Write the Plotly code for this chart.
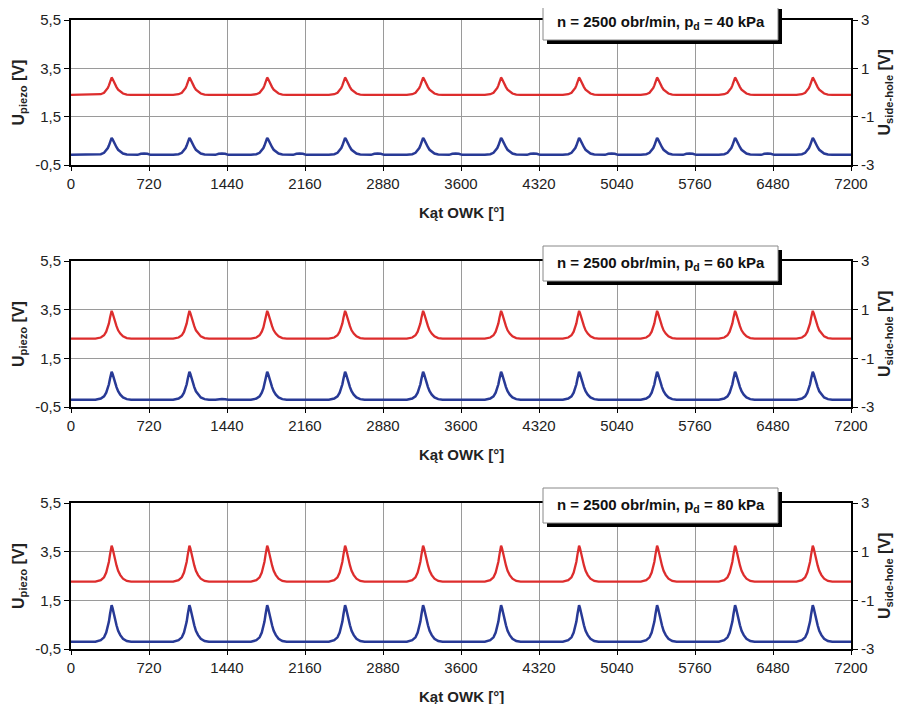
import plotly.graph_objects as go

# ---------------- data ----------------
x_ticks = [0, 720, 1440, 2160, 2880, 3600, 4320, 5040, 5760, 6480, 7200]
y_left_ticks = [-0.5, 1.5, 3.5, 5.5]
y_left_text = ["-0,5", "1,5", "3,5", "5,5"]
y_right_ticks = [-3, -1, 1, 3]
y_right_text = ["-3", "-1", "1", "3"]

pressures = ["40", "60", "80"]           # p_d [kPa] per panel
peak_x = [375, 1093, 1811, 2530, 3250, 3970, 4690, 5410, 6130, 6847]  # peak angles [deg]

# blue trace (U_piezo, left axis)
blue_base = [-0.08, -0.2, -0.2]
blue_peak = [0.62, 0.95, 1.3]
blue_bump = [0.06, 0.03, 0.02]           # small hump between peaks
# red trace (U_side-hole, right axis)
red_base = [-0.10, -0.19, -0.23]
red_peak = [0.62, 0.95, 1.25]

# peak shape: offset [deg] and fraction of peak height
shape_dx = [-150, -100, -70, -50, -35, -25, -15, -7, 0, 8, 18, 30, 45, 60, 80, 105, 140, 180]
shape_f = [0, 0.04, 0.12, 0.25, 0.4, 0.55, 0.75, 0.92, 1.0, 0.93, 0.78, 0.6, 0.45, 0.3, 0.18, 0.08, 0.02, 0]
bump_dx = [240, 270, 300, 330, 360]
bump_f = [0, 0.7, 1.0, 0.7, 0]


def build(base, peak, bump):
    xs, ys = [0], [base]
    for c in peak_x:
        for dx, f in zip(shape_dx, shape_f):
            xs.append(c + dx)
            ys.append(base + (peak - base) * f)
        if bump > 0 and c + bump_dx[-1] < 7200:
            for dx, f in zip(bump_dx, bump_f):
                xs.append(c + dx)
                ys.append(base + bump * f)
    xs.append(7200)
    ys.append(base)
    return xs, ys


# ---------------- layout geometry ----------------
# page has an 8 px body margin; geometry below is in page pixels
OFF = 8
W, H = 895, 696                      # figure size (page ends at 905 x 706)
PL, PR = 71, 851                     # plot-area left/right in page px
PT, PB = 20, 649                     # overall plot top/bottom in page px
ML, MR = PL - OFF, W - (PR - OFF)
MT, MB = PT - OFF, H - (PB - OFF)
PW, PH = W - ML - MR, H - MT - MB
panel_top_px = [20, 261, 503]
panel_bot_px = [165, 407, 649]


def py(px):
    return (PB - px) / PH


def pxx(px):
    return (px - PL) / PW


FONT = "Liberation Sans, Arial, sans-serif"
RED = "rgb(221,45,45)"
BLUE = "rgb(40,58,150)"
TXT = "#222"

fig = go.Figure()
layout = dict(
    width=W, height=H,
    margin=dict(l=ML, r=MR, t=MT, b=MB, autoexpand=False),
    paper_bgcolor="white", plot_bgcolor="white",
    showlegend=False,
    font=dict(family=FONT, size=15, color=TXT),
)
shapes = []
annotations = []

for i in range(3):
    n = i + 1
    xa = "x" if n == 1 else f"x{n}"
    yl = f"y{2*n-1}" if n > 1 else "y"
    yr = f"y{2*n}"
    dom = [py(panel_bot_px[i]), py(panel_top_px[i])]

    bx, by = build(blue_base[i], blue_peak[i], blue_bump[i])
    rx, ry = build(red_base[i], red_peak[i], 0)
    fig.add_trace(go.Scatter(x=bx, y=by, mode="lines", line=dict(color=BLUE, width=2.5),
                             xaxis=xa, yaxis=yl))
    fig.add_trace(go.Scatter(x=rx, y=ry, mode="lines", line=dict(color=RED, width=2.3),
                             xaxis=xa, yaxis=yr))

    xkey = "xaxis" if n == 1 else f"xaxis{n}"
    ylkey = "yaxis" if n == 1 else f"yaxis{2*n-1}"
    yrkey = f"yaxis{2*n}"
    layout[xkey] = dict(
        domain=[0, 1], anchor=yl, range=[0, 7200], automargin=False,
        tickvals=x_ticks, ticktext=[str(v) for v in x_ticks],
        showgrid=True, gridcolor="#9a9a9a", gridwidth=1, zeroline=False,
        showline=True, linecolor="black", linewidth=2, mirror=True,
        ticks="outside", ticklen=4, tickcolor="black",
        tickfont=dict(size=15, color=TXT),
    )
    layout[ylkey] = dict(
        domain=dom, anchor=xa, range=[-0.5, 5.5], automargin=False,
        tickvals=y_left_ticks, ticktext=y_left_text,
        showgrid=True, gridcolor="#9a9a9a", gridwidth=1, zeroline=False,
        showline=True, linecolor="black", linewidth=2,
        ticks="outside", ticklen=5, tickcolor="black",
        tickfont=dict(size=15, color=TXT),
    )
    layout[yrkey] = dict(
        overlaying=yl, side="right", anchor=xa, range=[-3, 3], automargin=False,
        tickvals=y_right_ticks, ticktext=y_right_text,
        showgrid=False, zeroline=False,
        showline=True, linecolor="black", linewidth=2,
        ticks="outside", ticklen=5, tickcolor="black",
        tickfont=dict(size=15, color=TXT),
    )

    mid = (panel_top_px[i] + panel_bot_px[i]) / 2
    # axis titles
    annotations.append(dict(
        xref="paper", yref="paper", x=pxx(19), y=py(mid), xanchor="center", yanchor="middle",
        showarrow=False, textangle=-90, text="<b>U<sub>piezo</sub> [V]</b>",
        font=dict(size=16, color=TXT)))
    annotations.append(dict(
        xref="paper", yref="paper", x=pxx(885), y=py(mid), xanchor="center", yanchor="middle",
        showarrow=False, textangle=-90, text="<b>U<sub>side-hole</sub> [V]</b>",
        font=dict(size=16, color=TXT)))
    annotations.append(dict(
        xref="paper", yref="paper", x=pxx(461), y=py(panel_bot_px[i] + 47),
        xanchor="center", yanchor="middle", showarrow=False,
        text="<b>Kąt OWK [°]</b>", font=dict(size=15, color=TXT)))

    # annotation box with drop shadow
    t = panel_top_px[i]
    top, bot = t - 15, t + 20
    left, right = 543, 778
    shapes.append(dict(type="rect", xref="paper", yref="paper", layer="above",
                       x0=pxx(left + 4), x1=pxx(right + 4), y0=py(bot + 4), y1=py(top + 4),
                       fillcolor="black", line=dict(width=0)))
    shapes.append(dict(type="rect", xref="paper", yref="paper", layer="above",
                       x0=pxx(left), x1=pxx(right), y0=py(bot), y1=py(top),
                       fillcolor="white", line=dict(color="#888", width=1)))
    annotations.append(dict(
        xref="paper", yref="paper", x=pxx((left + right) / 2), y=py((top + bot) / 2),
        xanchor="center", yanchor="middle", showarrow=False,
        text=f"<b>n = 2500 obr/min, p<sub>d</sub> = {pressures[i]} kPa</b>",
        font=dict(size=15, color="#111", family=FONT),
    ))

layout["shapes"] = shapes
layout["annotations"] = annotations
fig.update_layout(**layout)
fig.write_html("out.html")
